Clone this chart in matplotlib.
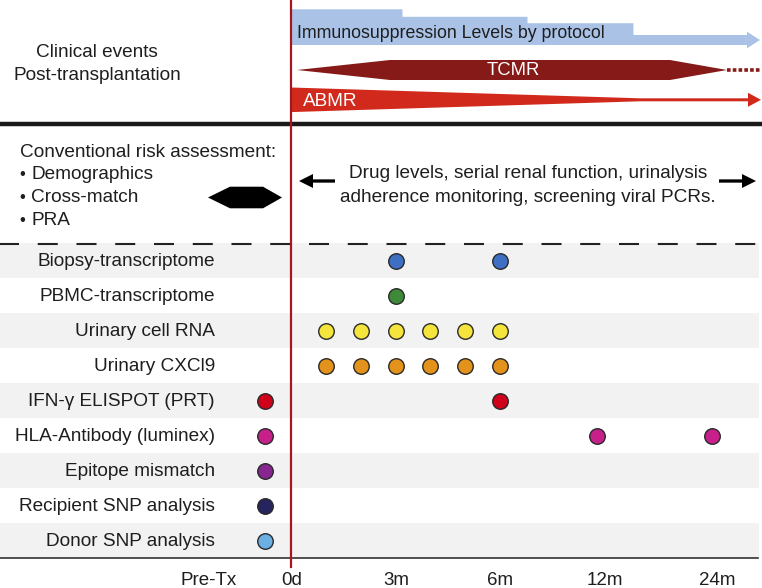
import numpy as np
import matplotlib
matplotlib.use("Agg")
import matplotlib.pyplot as plt
import matplotlib.transforms as mtransforms
from matplotlib.patches import Polygon, FancyArrow

plt.rcParams["font.family"] = ["Liberation Sans", "DejaVu Sans"]

# assays, top to bottom, and when each one is sampled (months after Tx, -1 = pre-Tx)
ASSAYS = ["Biopsy-transcriptome", "PBMC-transcriptome", "Urinary cell RNA",
          "Urinary CXCl9", "IFN-\u03b3 ELISPOT (PRT)", "HLA-Antibody (luminex)",
          "Epitope mismatch", "Recipient SNP analysis", "Donor SNP analysis"]
TIMEPOINTS = [[3, 6], [3], [1, 2, 3, 4, 5, 6], [1, 2, 3, 4, 5, 6],
              [-1, 6], [-1, 12, 24], [-1], [-1], [-1]]
DOT_COLORS = ["#3e6fc2", "#3f8a3a", "#f4e43c", "#e3921b", "#d0021b",
              "#c8208a", "#86268e", "#25245e", "#6cafe3"]

TICK_LABELS = ["Pre-Tx", "0d", "3m", "6m", "12m", "24m"]
TICK_MONTHS = [-1, 0, 3, 6, 12, 24]

# immunosuppression by protocol: step changes (months) and relative level
IS_STEP_MONTHS = [0, 3.2, 7.7, 15.8]
IS_LEVELS = [1.0, 0.79, 0.61, 0.28]

# time axis is not linear: knots of the piecewise scale (month -> pixel)
W, H = 762, 588
KNOT_M = [-10, -1, 0, 6, 12, 24, 30]
KNOT_PX = [0, 265, 291, 500, 597, 712, 762]


def fwd(m):
    return np.interp(m, KNOT_M, KNOT_PX)


def inv(p):
    return np.interp(p, KNOT_PX, KNOT_M)


TXT = "#1e1e1e"
FS = 13.7

fig = plt.figure(figsize=(W / 100, H / 100), dpi=100)

# ---- assay rows ----
row_top, row_h = 243, 35
n = len(ASSAYS)
axd = fig.add_axes([0, 1 - (row_top + n * row_h) / H, 1, n * row_h / H])
axd.set_xscale("function", functions=(fwd, inv))
axd.set_xlim(-10, 30)
axd.set_ylim(n - 0.5, -0.5)
axd.axis("off")
for i in range(0, n, 2):
    axd.axhspan(i - 0.5, i + 0.5, xmin=0, xmax=759 / W, color="#f2f2f2", lw=0)
for i, (tp, c) in enumerate(zip(TIMEPOINTS, DOT_COLORS)):
    axd.scatter(tp, [i] * len(tp), s=125, color=c, edgecolors="#2a2a2a",
                linewidths=1.0, zorder=3)
lbl_tr = mtransforms.blended_transform_factory(axd.transAxes, axd.transData)
for i, name in enumerate(ASSAYS):
    axd.text(215 / W, i + 0.03, name, transform=lbl_tr, ha="right", va="center",
             fontsize=FS, color=TXT)

# ---- schematic overlay in pixel coordinates ----
ax = fig.add_axes([0, 0, 1, 1], facecolor="none")
ax.set_xlim(0, W)
ax.set_ylim(H, 0)
ax.axis("off")

# section lines
ax.plot([0, W], [124, 124], color="#1a1a1a", lw=3.2, solid_capstyle="butt")
ax.plot([-7, W], [244, 244], color="#222222", lw=1.5, dashes=(9.6, 9.0))
ax.plot([0, 758], [558, 558], color="#333333", lw=1.2)

# immunosuppression stepped arrow
base = 45
full = 35.7
xs = [fwd(m) for m in IS_STEP_MONTHS]
head_x, tip_x = 747, 760
pts = [(xs[0], base)]
for k, lev in enumerate(IS_LEVELS):
    x_end = xs[k + 1] if k + 1 < len(xs) else head_x
    pts += [(xs[k], base - lev * full), (x_end, base - lev * full)]
shaft_mid = base - IS_LEVELS[-1] * full / 2
pts += [(head_x, shaft_mid - 8.3), (tip_x, shaft_mid), (head_x, shaft_mid + 8.3),
        (head_x, base)]
ax.add_patch(Polygon(pts, closed=True, fc="#a9c2e6", ec="none"))
ax.text(297, 34, "Immunosuppression Levels by protocol", fontsize=12.8,
        color=TXT, ha="left", va="center")

# TCMR
tc = [(297, 70), (390, 60), (670, 60), (727, 70), (670, 80), (390, 80)]
ax.add_patch(Polygon(tc, closed=True, fc="#861a18", ec="none"))
ax.plot([727, 761], [70, 70], color="#861a18", lw=2.6, dashes=(1.0, 0.6))
ax.text(513, 70.5, "TCMR", fontsize=13.3, color="white", ha="center", va="center")

# ABMR
yc = 99.8
ab = [(fwd(0), yc - 12.3), (640, yc - 1.5), (748, yc - 1.5), (748, yc - 7),
      (761, yc), (748, yc + 7), (748, yc + 1.5), (640, yc + 1.5),
      (fwd(0), yc + 12.3)]
ax.add_patch(Polygon(ab, closed=True, fc="#d12a1d", ec="none"))
ax.text(303, 102, "ABMR", fontsize=FS, color="white", ha="left", va="center")

# transplant day marker
ax.plot([fwd(0)] * 2, [0, 567], color="#a3171f", lw=1.6)

# left-hand labels
ax.text(97, 52.5, "Clinical events", fontsize=FS, color=TXT, ha="center", va="center")
ax.text(97, 75.5, "Post-transplantation", fontsize=FS, color=TXT, ha="center", va="center")
ax.text(20, 152.5, "Conventional risk assessment:", fontsize=FS, color=TXT,
        ha="left", va="center")
for k, item in enumerate(["Demographics", "Cross-match", "PRA"]):
    y = 174.5 + k * 22.8
    ax.text(19.5, y, "\u2022", fontsize=12, color=TXT, ha="left", va="center")
    ax.text(31.5, y, item, fontsize=FS, color=TXT, ha="left", va="center")

hexa = [(208, 197.5), (230, 186.7), (263, 186.7), (282, 197.5), (263, 208.3),
        (230, 208.3)]
ax.add_patch(Polygon(hexa, closed=True, fc="black", ec="none"))

# monitoring text with arrows
ax.text(528, 173.5, "Drug levels, serial renal function, urinalysis", fontsize=FS,
        color=TXT, ha="center", va="center")
ax.text(528, 197, "adherence monitoring, screening viral PCRs.", fontsize=FS,
        color=TXT, ha="center", va="center")
for x0, x1 in [(335, 299), (719, 756)]:
    ax.add_patch(FancyArrow(x0, 181, x1 - x0, 0, width=3.3, head_width=14,
                            head_length=14, length_includes_head=True,
                            fc="black", ec="none"))

# time labels
nudge = [-56, 1, 1, 0, 8, 5]
for lab, m, dx in zip(TICK_LABELS, TICK_MONTHS, nudge):
    ax.text(fwd(m) + dx, 580.5, lab, fontsize=13.5, color=TXT, ha="center",
            va="center")

fig.savefig("out.png", dpi=100)
